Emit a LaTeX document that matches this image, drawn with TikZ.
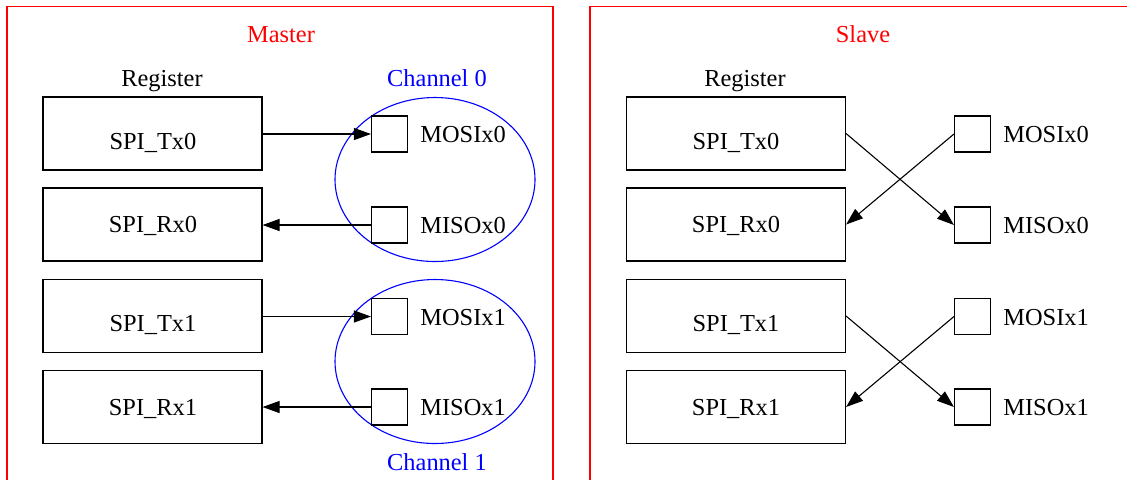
\documentclass[tikz,border=0pt]{standalone}
\usepackage{fontspec}
\setmainfont{Liberation Serif}
\usetikzlibrary{shapes.geometric,arrows.meta}
\tikzset{
  lbl/.style={font=\fontsize{12.2}{14}\selectfont, inner sep=0pt, anchor=base},
  regbox/.style={draw=black, line width=0.55pt, minimum width=109.5pt, minimum height=36.5pt, inner sep=0pt},
  pinbox/.style={draw=black, line width=0.55pt, minimum width=18pt, minimum height=18pt, inner sep=0pt},
  chan/.style={draw=blue, line width=0.55pt, ellipse, minimum width=100pt, minimum height=82pt, inner sep=0pt},
  frame/.style={draw=red, line width=0.6pt},
  conn/.style={draw=black, line width=0.55pt, -{Triangle[length=8.5pt,width=6pt]}},
}
\begin{document}
\begin{tikzpicture}[x=0.5pt,y=-0.5pt]
\useasboundingbox (0,0) rectangle (1127,479);
% frames
\draw[frame] (7,490) -- (7,6.5) -- (553,6.5) -- (553,490);
\draw[frame] (590,490) -- (590,6.5) -- (1135,6.5);
\node[lbl, text=red] (mtitle) at (281,42) {Master};
\node[lbl, text=red] (stitle) at (863,42) {Slave};
% Master
\node[lbl] (mreg) at (162,86) {Register};
\node[lbl, text=blue] (ch0lbl) at (437,86) {Channel 0};
\node[lbl, text=blue] (ch1lbl) at (437,470) {Channel 1};
\node[chan] (ch0) at (435,179.5) {};
\node[chan] (ch1) at (435,361.5) {};
\node[regbox] (mtx0) at (152.5,133.5) {};
\node[regbox] (mrx0) at (152.5,224.5) {};
\node[regbox] (mtx1) at (152.5,316) {};
\node[regbox] (mrx1) at (152.5,407) {};
\node[lbl] (mtx0t) at (153,149) {SPI\_Tx0};
\node[lbl] (mrx0t) at (153,232) {SPI\_Rx0};
\node[lbl] (mtx1t) at (153,331) {SPI\_Tx1};
\node[lbl] (mrx1t) at (153,415) {SPI\_Rx1};
\node[pinbox] (mmosi0) at (389.5,134) {};
\node[pinbox] (mmiso0) at (389.5,225) {};
\node[pinbox] (mmosi1) at (389.5,316.5) {};
\node[pinbox] (mmiso1) at (389.5,407) {};
\node[lbl, anchor=base west] (mmosi0t) at (420,142) {MOSIx0};
\node[lbl, anchor=base west] (mmiso0t) at (420,233) {MISOx0};
\node[lbl, anchor=base west] (mmosi1t) at (420,325) {MOSIx1};
\node[lbl, anchor=base west] (mmiso1t) at (420,415) {MISOx1};
\draw[conn] (mtx0.east |- mmosi0.west) -- (mmosi0.west);
\draw[conn] (mmiso0.west) -- (mmiso0.west -| mrx0.east);
\draw[conn] (mtx1.east |- mmosi1.west) -- (mmosi1.west);
\draw[conn] (mmiso1.west) -- (mmiso1.west -| mrx1.east);
% Slave
\node[lbl] (sreg) at (745,86) {Register};
\node[regbox] (stx0) at (736,133.5) {};
\node[regbox] (srx0) at (736,224.5) {};
\node[regbox] (stx1) at (736,316) {};
\node[regbox] (srx1) at (736,407) {};
\node[lbl] (stx0t) at (736,149) {SPI\_Tx0};
\node[lbl] (srx0t) at (736,232) {SPI\_Rx0};
\node[lbl] (stx1t) at (736,331) {SPI\_Tx1};
\node[lbl] (srx1t) at (736,415) {SPI\_Rx1};
\node[pinbox] (smosi0) at (972.5,134) {};
\node[pinbox] (smiso0) at (972.5,225) {};
\node[pinbox] (smosi1) at (972.5,316.5) {};
\node[pinbox] (smiso1) at (972.5,407) {};
\node[lbl, anchor=base west] (smosi0t) at (1003,142) {MOSIx0};
\node[lbl, anchor=base west] (smiso0t) at (1003,233) {MISOx0};
\node[lbl, anchor=base west] (smosi1t) at (1003,325) {MOSIx1};
\node[lbl, anchor=base west] (smiso1t) at (1003,415) {MISOx1};
\draw[conn] (stx0.east) -- (smiso0.west);
\draw[conn] (smosi0.west) -- (srx0.east);
\draw[conn] (stx1.east) -- (smiso1.west);
\draw[conn] (smosi1.west) -- (srx1.east);
\end{tikzpicture}
\end{document}
